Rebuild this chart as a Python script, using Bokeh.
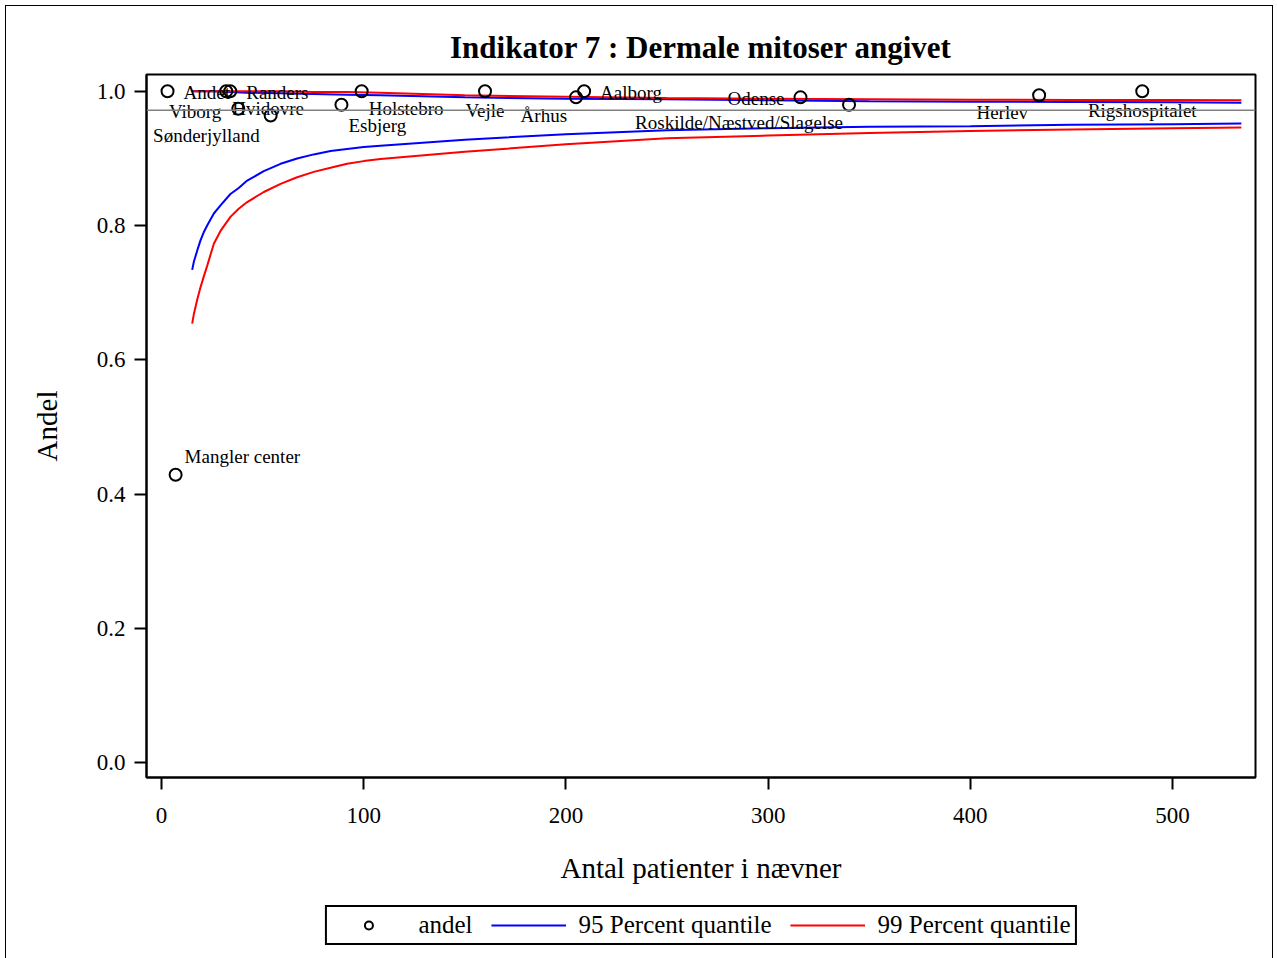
from bokeh.plotting import figure
from bokeh.layouts import column
from bokeh.models import ColumnDataSource, Span, Legend, LegendItem, FixedTicker
from bokeh.core.properties import value
from bokeh.embed import file_html
from bokeh.resources import INLINE

# --- data ---
centers = ["Andet", "Hvidovre", "Randers", "Viborg", "Sønderjylland", "Esbjerg",
           "Holstebro", "Vejle", "Århus", "Aalborg", "Odense",
           "Roskilde/Næstved/Slagelse", "Herlev", "Rigshospitalet", "Mangler center"]
n_patients = [3, 32, 34, 38, 54, 89, 99, 160, 205, 209, 316, 340, 434, 485, 7]
andel = [1.0, 1.0, 1.0, 0.974, 0.964, 0.980, 1.0, 1.0, 0.991, 1.0, 0.991,
         0.980, 0.994, 1.0, 0.429]

# label placement (screen px offsets, alignment)
lab_dx = [16, 6, 16, -17, -11, 7, 7, 0, -9, 16, -16, -6, -11, 0, 9]
lab_dy = [1, 17, 1, 3, 20, 21, 17, 19, 18, 1, 1, 18, 17, 19, -18]
lab_align = ["left", "left", "left", "right", "right", "left", "left", "center",
             "right", "left", "right", "right", "right", "center", "left"]

overall = 0.9717

low_n = [15.2, 16.0, 17.7, 19.3, 20.9, 22.6, 25.9, 29.2, 34.1, 38.2, 42.4, 50.6,
         58.9, 67.1, 75.3, 83.6, 91.8, 100, 108.3, 150, 200, 250, 300, 350, 400,
         450, 500, 534]
lower95 = [0.734, 0.746, 0.763, 0.778, 0.790, 0.800, 0.818, 0.830, 0.847, 0.856,
           0.867, 0.881, 0.892, 0.900, 0.906, 0.911, 0.914, 0.917, 0.919, 0.928,
           0.936, 0.942, 0.945, 0.947, 0.948, 0.950, 0.951, 0.952]
lower99 = [0.654, 0.668, 0.690, 0.708, 0.724, 0.740, 0.773, 0.792, 0.813, 0.825,
           0.835, 0.850, 0.862, 0.872, 0.880, 0.886, 0.892, 0.896, 0.899, 0.910,
           0.921, 0.930, 0.934, 0.938, 0.941, 0.943, 0.945, 0.946]

up_n = [15, 19, 26, 34, 42, 59, 75, 92, 108, 150, 200, 250, 300, 350, 400, 450, 500, 534]
upper95 = [1.0, 1.0, 1.0, 0.999, 0.998, 0.997, 0.996, 0.995, 0.994, 0.991,
           0.989, 0.988, 0.9865, 0.985, 0.9845, 0.984, 0.9835, 0.983]
upper99 = [1.0, 1.0, 1.0, 1.0, 1.0, 1.0, 0.999, 0.999, 0.998, 0.994,
           0.992, 0.990, 0.989, 0.988, 0.9875, 0.987, 0.987, 0.9866]

x_ticks = [0, 100, 200, 300, 400, 500]
y_ticks = [0.0, 0.2, 0.4, 0.6, 0.8, 1.0]

legend_labels = ["andel", "95 Percent quantile", "99 Percent quantile"]

SERIF = "Liberation Serif"

p = figure(width=1266, height=881, output_backend="svg", toolbar_location=None,
           x_range=(-7.4, 541), y_range=(-0.022, 1.025),
           title="Indikator 7 : Dermale mitoser angivet",
           min_border_left=140, min_border_right=17, min_border_top=68,
           min_border_bottom=110)

p.title.text_font = SERIF
p.title.text_font_size = "31px"
p.title.text_font_style = "bold"
p.title.align = "center"
p.title.text_color = "black"
p.title.standoff = 20

p.xgrid.visible = False
p.ygrid.visible = False
p.outline_line_color = "black"
p.outline_line_width = 2

for ax in (p.xaxis[0], p.yaxis[0]):
    ax.axis_line_width = 2
    ax.axis_line_color = "black"
    ax.major_tick_line_width = 2
    ax.major_tick_line_color = "black"
    ax.major_tick_out = 12
    ax.major_tick_in = 0
    ax.minor_tick_line_color = None
    ax.major_label_text_font = SERIF
    ax.major_label_text_font_size = "23px"
    ax.major_label_text_color = "black"
    ax.axis_label_text_font = SERIF
    ax.axis_label_text_font_size = "29px"
    ax.axis_label_text_font_style = "normal"
    ax.axis_label_text_color = "black"

p.xaxis.ticker = FixedTicker(ticks=x_ticks)
p.yaxis.ticker = FixedTicker(ticks=y_ticks)
p.yaxis.major_label_overrides = {t: f"{t:.1f}" for t in y_ticks}
p.xaxis.axis_label = "Antal patienter i nævner"
p.yaxis.axis_label = "Andel"
p.xaxis.major_label_standoff = 18
p.yaxis.major_label_standoff = 9
p.xaxis.axis_label_standoff = 26
p.yaxis.axis_label_standoff = 31

ref = Span(location=overall, dimension="width", line_color="#808080", line_width=1.5)
p.add_layout(ref)

p.line(low_n, lower95, line_color="#0000ff", line_width=2)
p.line(up_n, upper95, line_color="#0000ff", line_width=2)
p.line(low_n, lower99, line_color="#ff0000", line_width=2)
p.line(up_n, upper99, line_color="#ff0000", line_width=2)

src = ColumnDataSource(dict(x=n_patients, y=andel))
p.scatter("x", "y", source=src, marker="circle", size=12, fill_color=None,
          line_color="black", line_width=2)

for al in ("left", "right", "center"):
    idx = [i for i, a in enumerate(lab_align) if a == al]
    s = ColumnDataSource(dict(
        x=[n_patients[i] for i in idx], y=[andel[i] for i in idx],
        t=[centers[i] for i in idx], dx=[lab_dx[i] for i in idx],
        dy=[lab_dy[i] for i in idx]))
    p.text("x", "y", text="t", source=s, x_offset="dx", y_offset="dy",
           text_align=al, text_baseline="middle", text_font=value(SERIF),
           text_font_size="19px", text_color="black")

# --- legend strip below the chart (series drawn out of view; only legend shows) ---
lg = figure(width=1266, height=71, output_backend="svg", toolbar_location=None,
            x_axis_location=None, y_axis_location=None,
            x_range=(-7.4, 541), y_range=(5, 6),
            min_border_left=0, min_border_right=0, min_border_top=0,
            min_border_bottom=0)
lg.xgrid.visible = False
lg.ygrid.visible = False
lg.outline_line_color = None
lr0 = lg.scatter(n_patients, andel, marker="circle", size=11, fill_color=None,
                 line_color="black", line_width=2)
lr1 = lg.line(low_n, lower95, line_color="#0000ff", line_width=2)
lr2 = lg.line(low_n, lower99, line_color="#ff0000", line_width=2)

legend = Legend(items=[LegendItem(label=legend_labels[0], renderers=[lr0]),
                       LegendItem(label=legend_labels[1], renderers=[lr1]),
                       LegendItem(label=legend_labels[2], renderers=[lr2])],
                orientation="horizontal", location="top_center")
legend.label_text_font = SERIF
legend.label_text_font_size = "25px"
legend.label_text_color = "black"
legend.glyph_width = 75
legend.border_line_color = "black"
legend.border_line_alpha = 1.0
legend.border_line_width = 2
legend.spacing = 18
legend.padding = 4
legend.margin = 18
legend.label_standoff = 13
lg.add_layout(legend, "center")

page = column(p, lg, spacing=0)
page.margin = (5, 5, 0, 5)
page.styles = {"border-left": "1px solid black", "border-top": "1px solid black",
               "border-right": "1px solid black"}

open("out.html", "w").write(file_html(page, INLINE))
